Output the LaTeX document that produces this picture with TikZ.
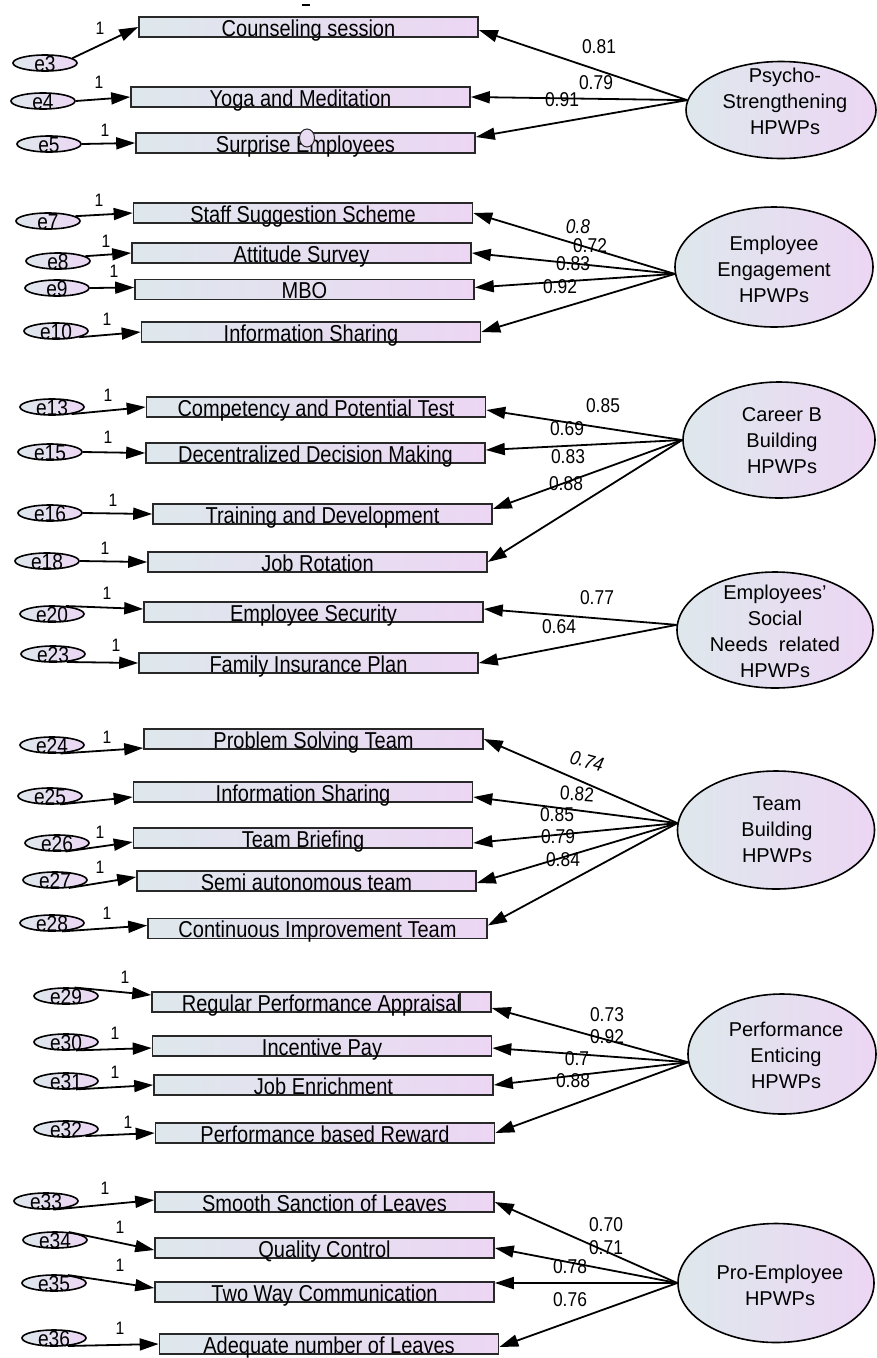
\documentclass[tikz,border=0pt]{standalone}
\usepackage{fontspec}
\setmainfont{Liberation Sans}
\newfontfamily\amos[FakeStretch=0.87]{Liberation Sans}
\usetikzlibrary{shapes.geometric,arrows.meta}
\definecolor{gl}{RGB}{222,232,236}
\definecolor{gr}{RGB}{236,214,244}
\definecolor{boxline}{RGB}{40,40,40}
\tikzset{
  obs/.style={rectangle, draw=boxline, line width=1.6pt, left color=gl, right color=gr,
    minimum width=339pt, minimum height=20pt, inner sep=0pt, text height=19pt, text depth=1pt,
    font=\fontsize{23}{23}\amos},
  err/.style={ellipse, draw=black, line width=1.6pt, left color=gl, right color=gr,
    minimum width=64pt, minimum height=16pt, inner sep=0pt},
  errlab/.style={anchor=base, inner sep=0pt, font=\fontsize{22}{22}\amos},
  lat/.style={ellipse, draw=black, line width=1.6pt, left color=gl, right color=gr, inner sep=0pt},
  ltxt/.style={font=\fontsize{20}{26}\selectfont, align=center, inner sep=0pt},
  ldg/.style={line width=1.8pt, -{Triangle[length=19pt,width=12pt]}},
  coef/.style={font=\fontsize{20}{20}\amos, inner sep=0pt},
  unit/.style={font=\fontsize{18}{18}\amos, inner sep=0pt},
}
\newcommand{\errnode}[3]{\node[err, label={[errlab, name=#1t]south:#3}] (#1) at (#2) {};}
\begin{document}
\begin{tikzpicture}[x=1pt,y=-1pt]
\useasboundingbox (0,0) rectangle (876,1358);
\fill[white] (0,0) rectangle (876,1358);
\draw[line width=2pt] (302,5) -- (310,5);

% ---------- observed boxes ----------
\node[obs] (cs)    at (308.5,27)   {Counseling session};
\node[obs] (yoga)  at (300.5,97)   {Yoga and Meditation};
\node[obs] (surp)  at (305.5,143)  {Surprise Employees};
\node[ellipse, draw=boxline, line width=1pt, fill=gr!70!gl, minimum width=15pt, minimum height=18pt, inner sep=0pt] (dot) at (307,138) {};
\node[obs] (staff) at (303,213)    {Staff Suggestion Scheme};
\node[obs] (att)   at (301.5,253)  {Attitude Survey};
\node[obs] (mbo)   at (304.5,289.5){MBO};
\node[obs] (info)  at (311,332)    {Information Sharing};
\node[obs] (comp)  at (316,407)    {Competency and Potential Test};
\node[obs] (dec)   at (315.5,453)  {Decentralized Decision Making};
\node[obs] (train) at (322.5,514)  {Training and Development};
\node[obs] (jobr)  at (317.5,562)  {Job Rotation};
\node[obs] (esec)  at (313.5,612)  {Employee Security};
\node[obs] (fip)   at (308.5,663)  {Family Insurance Plan};
\node[obs] (pst)   at (313.5,739)  {Problem Solving Team};
\node[obs] (is2)   at (303,792)    {Information Sharing};
\node[obs] (tbr)   at (303,838)    {Team Briefing};
\node[obs] (sat)   at (306.5,881)  {Semi autonomous team};
\node[obs] (cit)   at (317.5,928.5){Continuous Improvement Team};
\node[obs] (rpa)   at (321.5,1002) {Regular Performance Appraisal};
\draw[boxline, line width=1.4pt] (460,992) -- (460,1012);
\node[obs] (ipay)  at (322,1046)   {Incentive Pay};
\node[obs] (jenr)  at (323.5,1085) {Job Enrichment};
\node[obs] (pbr)   at (325,1133)   {Performance based Reward};
\node[obs] (ssl)   at (324.5,1202) {Smooth Sanction of Leaves};
\node[obs] (qc)    at (324.5,1248) {Quality Control};
\node[obs] (twc)   at (324.5,1292) {Two Way Communication};
\node[obs] (adq)   at (329,1344)   {Adequate number of Leaves};

% ---------- error terms ----------
\errnode{e3}{45,63}{e3}
\errnode{e4}{43,101}{e4}
\errnode{e5}{49,144}{e5}
\errnode{e7}{48,221}{e7}
\errnode{e8}{58,261}{e8}
\errnode{e9}{57,288}{e9}
\errnode{e10}{56,331}{e10}
\errnode{e13}{52,407}{e13}
\errnode{e15}{50,452}{e15}
\errnode{e16}{50,513}{e16}
\errnode{e18}{47,561}{e18}
\errnode{e20}{52,614}{e20}
\errnode{e23}{53,654}{e23}
\errnode{e24}{52,745}{e24}
\errnode{e25}{50,796}{e25}
\errnode{e26}{57,843}{e26}
\errnode{e27}{55,880}{e27}
\errnode{e28}{52,923}{e28}
\errnode{e29}{66,996}{e29}
\errnode{e30}{66,1042}{e30}
\errnode{e31}{66,1081}{e31}
\errnode{e32}{66,1129}{e32}
\errnode{e33}{46,1201}{e33}
\errnode{e34}{55,1240}{e34}
\errnode{e35}{54,1283}{e35}
\errnode{e36}{54,1338}{e36}

% ---------- latent variables ----------
\node[lat, minimum width=190pt, minimum height=97pt]  (psy)  at (781,110)  {};
\node[ltxt] (psyt) at (785,101) {Psycho-\\Strengthening\\HPWPs};
\node[lat, minimum width=198pt, minimum height=120pt] (eng)  at (774,267)  {};
\node[ltxt] (engt) at (774,269) {Employee\\Engagement\\HPWPs};
\node[lat, minimum width=192pt, minimum height=116pt] (car)  at (779,440)  {};
\node[ltxt] (cart) at (782,441) {Career B\\Building\\HPWPs};
\node[lat, minimum width=196pt, minimum height=116pt] (soc)  at (775,630)  {};
\node[ltxt] (soct) at (775,631) {Employees'\\Social\\Needs~~related\\HPWPs};
\node[lat, minimum width=197pt, minimum height=118pt] (team) at (776,830)  {};
\node[ltxt] (teamt) at (777,830) {Team\\Building\\HPWPs};
\node[lat, minimum width=188pt, minimum height=120pt] (perf) at (782,1054) {};
\node[ltxt] (perft) at (786,1055) {Performance\\Enticing\\HPWPs};
\node[lat, minimum width=196pt, minimum height=119pt] (pro)  at (776,1283) {};
\node[ltxt] (prot) at (780,1285) {Pro-Employee\\HPWPs};

% ---------- loadings ----------
\draw[ldg] (psy.174) -- ([yshift=-3pt]cs.east);
\draw[ldg] (psy.174) -- (yoga.east);
\draw[ldg] (psy.174) -- ([yshift=6pt]surp.east);

\draw[ldg] (eng.184) -- (staff.east);
\draw[ldg] (eng.184) -- (att.east);
\draw[ldg] (eng.184) -- ([yshift=2pt]mbo.east);
\draw[ldg] (eng.184) -- (info.east);

\draw[ldg] (car.180) -- ([yshift=-3pt]comp.east);
\draw[ldg] (car.180) -- ([yshift=3pt]dec.east);
\draw[ldg] (car.180) -- ([yshift=5pt]train.east);
\draw[ldg] (car.180) -- (jobr.east);

\draw[ldg] (soc.177) -- ([yshift=3pt]esec.east);
\draw[ldg] (soc.177) -- (fip.east);

\draw[ldg] (team.176) -- (pst.east);
\draw[ldg] (team.176) -- ([yshift=-5pt]is2.east);
\draw[ldg] (team.176) -- ([yshift=-5pt]tbr.east);
\draw[ldg] (team.176) -- ([yshift=-2pt]sat.east);
\draw[ldg] (team.176) -- ([yshift=3pt]cit.east);

\draw[ldg] (perf.185) -- ([yshift=-6pt]rpa.east);
\draw[ldg] (perf.185) -- ([yshift=-2pt]ipay.east);
\draw[ldg] (perf.185) -- (jenr.east);
\draw[ldg] (perf.185) -- (pbr.east);

\draw[ldg] (pro.180) -- (ssl.east);
\draw[ldg] (pro.180) -- (qc.east);
\draw[ldg] (pro.180) -- ([yshift=9pt]twc.east);
\draw[ldg] (pro.180) -- ([yshift=-3pt]adq.east);

% ---------- error paths ----------
\draw[ldg] (e3.10) -- (cs.west);
\draw[ldg] (e4.east) -- (yoga.west);
\draw[ldg] (e5.east) -- (surp.west);
\draw[ldg] (e7.10) -- (staff.west);
\draw[ldg] (e8.10) -- (att.west);
\draw[ldg] (e9.east) -- ([yshift=2pt]mbo.west);
\draw[ldg] (e10.-15) -- (info.west);
\draw[ldg] (e13.-20) -- (comp.west);
\draw[ldg] (e15.east) -- (dec.west);
\draw[ldg] (e16.east) -- (train.west);
\draw[ldg] (e18.east) -- (jobr.west);
\draw[ldg] (e20.30) -- ([yshift=3pt]esec.west);
\draw[ldg] (e23.-30) -- (fip.west);
\draw[ldg] (e24.-45) -- ([yshift=-9pt]pst.west);
\draw[ldg] (e25.-40) -- ([yshift=-5pt]is2.west);
\draw[ldg] (e26.-45) -- ([yshift=-4pt]tbr.west);
\draw[ldg] (e27.-30) -- ([yshift=4pt]sat.west);
\draw[ldg] (e28.-40) -- ([yshift=3pt]cit.west);
\draw[ldg] (e29.45) -- ([yshift=7pt]rpa.west);
\draw[ldg] (e30.-40) -- ([yshift=-2pt]ipay.west);
\draw[ldg] (e31.-40) -- (jenr.west);
\draw[ldg] (e32.-20) -- (pbr.west);
\draw[ldg] (e33.-50) -- ([yshift=2pt]ssl.west);
\draw[ldg] (e34.30) -- ([yshift=-2pt]qc.west);
\draw[ldg] (e35.30) -- ([yshift=4pt]twc.west);
\draw[ldg] (e36.-30) -- (adq.west);

% ---------- unit weights ----------
\node[unit] (u3)  at (100,28)   {1};
\node[unit] (u4)  at (99,82)    {1};
\node[unit] (u5)  at (105,130)  {1};
\node[unit] (u7)  at (99,200)   {1};
\node[unit] (u8)  at (106,241)  {1};
\node[unit] (u9)  at (114,271)  {1};
\node[unit] (u10) at (107,319)  {1};
\node[unit] (u13) at (108,395)  {1};
\node[unit] (u15) at (108,437)  {1};
\node[unit] (u16) at (113,500)  {1};
\node[unit] (u18) at (105,548)  {1};
\node[unit] (u20) at (107,593)  {1};
\node[unit] (u23) at (116,645)  {1};
\node[unit] (u24) at (107,737)  {1};
\node[unit] (u26) at (100,832)  {1};
\node[unit] (u27) at (100,867)  {1};
\node[unit] (u28) at (107,913)  {1};
\node[unit] (u29) at (125,977)  {1};
\node[unit] (u30) at (115,1033) {1};
\node[unit] (u31) at (115,1072) {1};
\node[unit] (u32) at (128,1122) {1};
\node[unit] (u33) at (105,1188) {1};
\node[unit] (u34) at (120,1227) {1};
\node[unit] (u35) at (120,1265) {1};
\node[unit] (u36) at (120,1328) {1};

% ---------- coefficients ----------
\node[coef] (c1)  at (599,47)  {0.81};
\node[coef] (c2)  at (596,83)  {0.79};
\node[coef] (c3)  at (562,100) {0.91};
\node[coef, font=\fontsize{20}{20}\amos\itshape] (c4) at (578,227) {0.8};
\node[coef] (c5)  at (590,246) {0.72};
\node[coef] (c6)  at (573,264) {0.83};
\node[coef] (c7)  at (560,287) {0.92};
\node[coef] (c8)  at (603,406) {0.85};
\node[coef] (c9)  at (567,429) {0.69};
\node[coef] (c10) at (568,457) {0.83};
\node[coef] (c11) at (566,484) {0.88};
\node[coef] (c12) at (597,598) {0.77};
\node[coef] (c13) at (559,627) {0.64};
\node[coef, font=\fontsize{20}{20}\amos\itshape, rotate=-15] (c14) at (587,761) {0.74};
\node[coef, rotate=-4] (c15) at (577,794) {0.82};
\node[coef] (c16) at (557,815) {0.85};
\node[coef] (c17) at (558,837) {0.79};
\node[coef] (c18) at (563,860) {0.84};
\node[coef] (c19) at (607,1015) {0.73};
\node[coef] (c20) at (607,1037) {0.92};
\node[coef] (c21) at (577,1059) {0.7};
\node[coef] (c22) at (573,1081) {0.88};
\node[coef] (c23) at (606,1225) {0.70};
\node[coef] (c24) at (606,1248) {0.71};
\node[coef] (c25) at (570,1267) {0.78};
\node[coef] (c26) at (570,1300) {0.76};
\end{tikzpicture}
\end{document}
